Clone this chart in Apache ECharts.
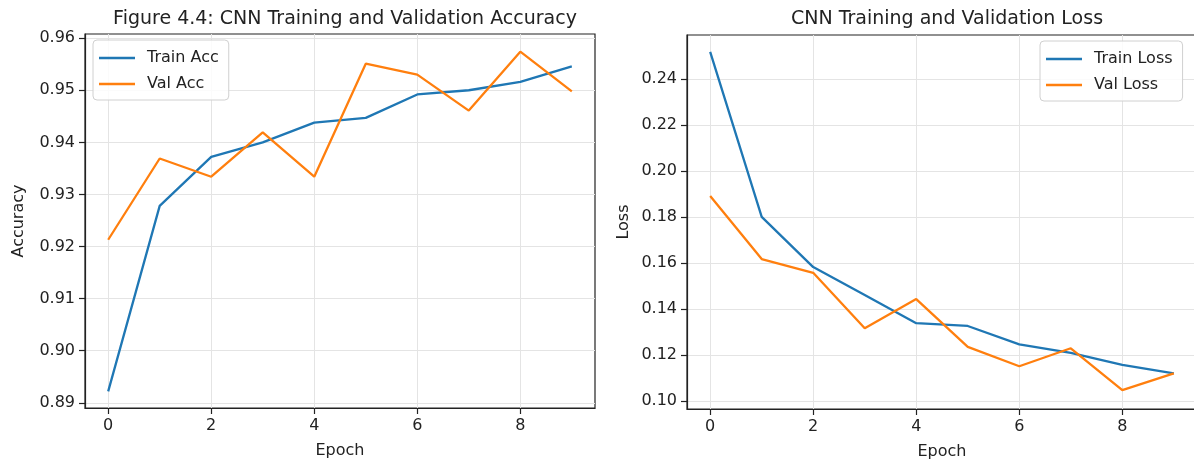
<!DOCTYPE html>
<html><head><meta charset="utf-8">
<script src="https://cdn.jsdelivr.net/npm/echarts@6/dist/echarts.min.js"></script>
<style>html,body{margin:0;padding:0;background:#fff}#c{width:1194px;height:462px}</style>
</head><body><div id="c"></div>
<script>
const epochs = [0,1,2,3,4,5,6,7,8,9];
const trainAcc = [0.8922,0.9278,0.9372,0.9400,0.9438,0.9447,0.9492,0.9500,0.9516,0.9546];
const valAcc = [0.9213,0.9369,0.9334,0.9419,0.9334,0.9551,0.9530,0.9461,0.9574,0.9498];
const trainLoss = [0.2518,0.1800,0.1582,0.1461,0.1338,0.1326,0.1246,0.1209,0.1157,0.1120];
const valLoss = [0.1891,0.1617,0.1557,0.1316,0.1443,0.1235,0.1151,0.1229,0.1047,0.1120];
const xTicks = [0,2,4,6,8];
const accTicks = [0.89,0.90,0.91,0.92,0.93,0.94,0.95,0.96];
const lossTicks = [0.10,0.12,0.14,0.16,0.18,0.20,0.22,0.24];

const FONT = 'DejaVu Sans';
const INK = '#222222';
const BLUE = '#1f77b4', ORANGE = '#ff7f0e';
const GRIDC = '#e4e4e4';

function pairs(ys){ return epochs.map((e,i)=>[e, ys[i]]); }

function xAxisCfg(gi){
  return {
    gridIndex: gi, type: 'value', min: -0.45, max: 9.45,
    name: 'Epoch', nameLocation: 'middle', nameGap: 35,
    nameTextStyle: {fontSize: 16, color: INK, fontFamily: FONT},
    axisLine: {show: true, onZero: false, lineStyle: {color: INK, width: 1.2}},
    axisTick: {show: true, inside: false, length: 6, customValues: xTicks, lineStyle: {color: INK, width: 1.2}},
    axisLabel: {customValues: xTicks, margin: 10, fontSize: 16, color: INK, fontFamily: FONT},
    splitLine: {show: true, lineStyle: {color: GRIDC, width: 1}}
  };
}
function yAxisCfg(gi, name, min, max, ticks, gap){
  return {
    gridIndex: gi, type: 'value', min: min, max: max,
    name: name, nameLocation: 'middle', nameGap: gap,
    nameTextStyle: {fontSize: 16, color: INK, fontFamily: FONT},
    axisLine: {show: true, onZero: false, lineStyle: {color: INK, width: 1.2}},
    axisTick: {show: true, inside: false, length: 6, customValues: ticks, lineStyle: {color: INK, width: 1.2}},
    axisLabel: {customValues: ticks, margin: 10, fontSize: 16, color: INK, fontFamily: FONT,
      formatter: v => v.toFixed(2)},
    splitLine: {show: true, lineStyle: {color: GRIDC, width: 1}}
  };
}
function lineSeries(name, ys, color, xi, yi){
  return {
    name: name, type: 'line', xAxisIndex: xi, yAxisIndex: yi, data: pairs(ys),
    symbol: 'none', smooth: false, z: 3,
    lineStyle: {color: color, width: 2.3}, itemStyle: {color: color}
  };
}
function legendCfg(pos, names){
  return Object.assign({
    orient: 'vertical', data: names,
    icon: 'rect', itemWidth: 36, itemHeight: 2.4, itemGap: 10,
    padding: [10, 10, 8, 6],
    borderColor: '#d0d0d0', borderWidth: 1, borderRadius: 4,
    backgroundColor: 'rgba(255,255,255,0.85)',
    textStyle: {fontSize: 16, color: INK, fontFamily: FONT, padding: [0,0,0,7]}
  }, pos);
}

const chart = echarts.init(document.getElementById('c'), null, {renderer: 'canvas'});
chart.setOption({
  animation: false,
  backgroundColor: '#fff',
  title: [
    {text: 'Figure 4.4: CNN Training and Validation Accuracy', left: 340, top: 5, textAlign: 'center',
     textStyle: {fontSize: 19, fontWeight: 'normal', color: INK, fontFamily: FONT}},
    {text: 'CNN Training and Validation Loss', left: 942, top: 5, textAlign: 'center',
     textStyle: {fontSize: 19, fontWeight: 'normal', color: INK, fontFamily: FONT}}
  ],
  legend: [
    legendCfg({left: 93, top: 40}, ['Train Acc', 'Val Acc']),
    legendCfg({left: 1040, top: 41}, ['Train Loss', 'Val Loss'])
  ],
  grid: [
    {left: 85, top: 34, width: 510, height: 374, show: true, borderColor: INK, borderWidth: 1.2,
     backgroundColor: 'transparent', containLabel: false, outerBoundsMode: 'none'},
    {left: 687, top: 35, width: 510, height: 374, show: true, borderColor: INK, borderWidth: 1.2,
     backgroundColor: 'transparent', containLabel: false, outerBoundsMode: 'none'}
  ],
  xAxis: [xAxisCfg(0), xAxisCfg(1)],
  yAxis: [
    yAxisCfg(0, 'Accuracy', 0.8890, 0.9608, accTicks, 58),
    yAxisCfg(1, 'Loss', 0.0965, 0.2591, lossTicks, 55)
  ],
  series: [
    lineSeries('Train Acc', trainAcc, BLUE, 0, 0),
    lineSeries('Val Acc', valAcc, ORANGE, 0, 0),
    lineSeries('Train Loss', trainLoss, BLUE, 1, 1),
    lineSeries('Val Loss', valLoss, ORANGE, 1, 1)
  ]
});
</script></body></html>
